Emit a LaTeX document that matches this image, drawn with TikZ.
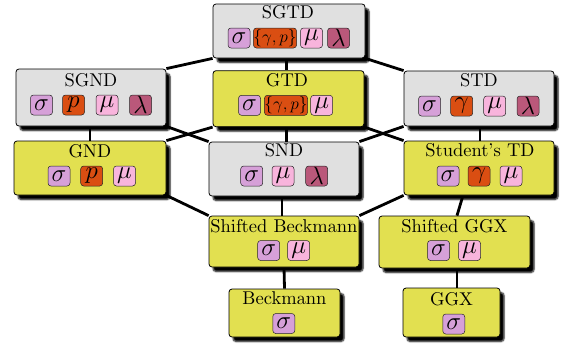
\documentclass[tikz,border=0pt]{standalone}
\usetikzlibrary{shadows.blur,backgrounds}
\definecolor{boxgray}{RGB}{224,224,224}
\definecolor{boxyel}{RGB}{226,224,80}
\definecolor{csig}{RGB}{214,160,216}
\definecolor{cpar}{RGB}{218,78,18}
\definecolor{cmu}{RGB}{248,180,220}
\definecolor{clam}{RGB}{186,88,122}
\font\titlef=cmr10 at 18.5pt
\newcommand{\titlefont}{\titlef}
\newcommand{\badgefont}{\fontsize{25}{25}\selectfont}
\newcommand{\smallbadgefont}{\fontsize{16}{16}\selectfont}
\tikzset{
  box/.style={draw=black, line width=0.8pt, rounded corners=3pt, inner sep=0pt,
    blur shadow={shadow xshift=4pt, shadow yshift=-4.5pt, shadow blur radius=1.5pt,
      shadow blur steps=5, shadow opacity=100}},
  graybox/.style={box, fill=boxgray},
  yelbox/.style={box, fill=boxyel},
  ttl/.style={anchor=base, inner sep=0pt, font=\titlefont},
  badge/.style={draw=black!85, line width=0.5pt, rounded corners=3pt,
    minimum width=22pt, minimum height=20pt, inner sep=0pt, font=\badgefont},
  sig/.style={badge, fill=csig},
  par/.style={badge, fill=cpar},
  wpar/.style={badge, fill=cpar, minimum width=42pt, font=\smallbadgefont},
  mub/.style={badge, fill=cmu},
  lam/.style={badge, fill=clam},
  conn/.style={line width=2.8pt, black}
}
\begin{document}
\begin{tikzpicture}[x=1pt,y=-1pt]
\useasboundingbox (0,0) rectangle (561,348);
% boxes
\node[graybox, minimum width=152pt, minimum height=54pt] (sgtd) at (289,31) {};
\node[yelbox, minimum width=151pt, minimum height=56pt] (gtd) at (288.5,98.7) {};
\node[graybox, minimum width=150pt, minimum height=57pt] (sgnd) at (91,97.5) {};
\node[yelbox, minimum width=152pt, minimum height=54pt] (gnd) at (90,168) {};
\node[graybox, minimum width=150pt, minimum height=55pt] (std) at (479,98.5) {};
\node[yelbox, minimum width=150pt, minimum height=54pt] (stu) at (479,168) {};
\node[graybox, minimum width=150pt, minimum height=54pt] (snd) at (284,169) {};
\node[yelbox, minimum width=150pt, minimum height=51pt] (sbeck) at (284,241.5) {};
\node[yelbox, minimum width=151pt, minimum height=52pt] (sggx) at (454.5,242) {};
\node[yelbox, minimum width=111pt, minimum height=48pt] (beck) at (284.5,313) {};
\node[yelbox, minimum width=97pt, minimum height=49pt] (ggx) at (451.5,312.5) {};
% titles
\node[ttl] (t-sgtd) at (288,18.3) {SGTD};
\node[ttl] (t-gtd) at (287,86.7) {GTD};
\node[ttl] (t-sgnd) at (91,86) {SGND};
\node[ttl] (t-gnd) at (90,157) {GND};
\node[ttl] (t-std) at (479,86.7) {STD};
\node[ttl] (t-stu) at (480,156.7) {Student's TD};
\node[ttl] (t-snd) at (284,156) {SND};
\node[ttl] (t-sbeck) at (284,232) {Shifted Beckmann};
\node[ttl] (t-sggx) at (454.5,232.7) {Shifted GGX};
\node[ttl] (t-beck) at (284.5,304) {Beckmann};
\node[ttl] (t-ggx) at (451.5,305) {GGX};
% badges
\node[sig] (b1a) at (239,38) {$\sigma$};
\node[wpar] (b1b) at (275,38) {$\{\gamma,p\}$};
\node[mub] (b1c) at (311.5,38) {$\mu$};
\node[lam] (b1d) at (338.5,38) {$\lambda$};
\node[sig] (b2a) at (249.5,105.3) {$\sigma$};
\node[wpar] (b2b) at (286,105.3) {$\{\gamma,p\}$};
\node[mub] (b2c) at (321.7,105.3) {$\mu$};
\node[sig] (b3a) at (41.5,105) {$\sigma$};
\node[par] (b3b) at (73.5,105) {$p$};
\node[mub] (b3c) at (107,105) {$\mu$};
\node[lam] (b3d) at (140.5,105) {$\lambda$};
\node[sig] (b4a) at (59,176) {$\sigma$};
\node[par] (b4b) at (91.7,176) {$p$};
\node[mub] (b4c) at (124.5,176) {$\mu$};
\node[sig] (b5a) at (429.5,106) {$\sigma$};
\node[par] (b5b) at (461.7,106) {$\gamma$};
\node[mub] (b5c) at (494.7,106) {$\mu$};
\node[lam] (b5d) at (528,106) {$\lambda$};
\node[sig] (b6a) at (448,176) {$\sigma$};
\node[par] (b6b) at (479,176) {$\gamma$};
\node[mub] (b6c) at (511,176) {$\mu$};
\node[sig] (b7a) at (251.7,176) {$\sigma$};
\node[mub] (b7b) at (283,176) {$\mu$};
\node[lam] (b7c) at (316.7,176) {$\lambda$};
\node[sig] (b8a) at (268.7,250.5) {$\sigma$};
\node[mub] (b8b) at (298.7,250.5) {$\mu$};
\node[sig] (b9a) at (438.5,250.5) {$\sigma$};
\node[mub] (b9b) at (469.5,250.5) {$\mu$};
\node[sig] (b10a) at (283.8,323.5) {$\sigma$};
\node[sig] (b11a) at (453.8,324) {$\sigma$};
% connectors
\begin{scope}[on background layer]
\draw[conn] (sgtd.south west) -- (sgnd.north east);
\draw[conn] ([xshift=-2.3pt]sgtd.south) -- ([xshift=-1.8pt]gtd.north);
\draw[conn] (sgtd.south east) -- (std.north west);
\draw[conn] ([xshift=-1pt]sgnd.south) -- (gnd.north);
\draw[conn] (sgnd.south east) -- (snd.north west);
\draw[conn] (gtd.south west) -- (gnd.north east);
\draw[conn] ([xshift=-2.3pt]gtd.south) -- ([xshift=2.2pt]snd.north);
\draw[conn] (gtd.south east) -- (stu.north west);
\draw[conn] (std.south west) -- (snd.north east);
\draw[conn] ([xshift=1pt]std.south) -- ([xshift=1pt]stu.north);
\draw[conn] (gnd.south east) -- (sbeck.north west);
\draw[conn] ([xshift=-2pt]snd.south) -- ([xshift=-2pt]sbeck.north);
\draw[conn] (stu.south west) -- (sbeck.north east);
\draw[conn] ([xshift=-16pt]stu.south) -- ([xshift=2.5pt]sggx.north);
\draw[conn] (sbeck.south) -- (beck.north);
\draw[conn] ([xshift=2.5pt]sggx.south) -- ([xshift=5.5pt]ggx.north);
\end{scope}
\end{tikzpicture}
\end{document}
